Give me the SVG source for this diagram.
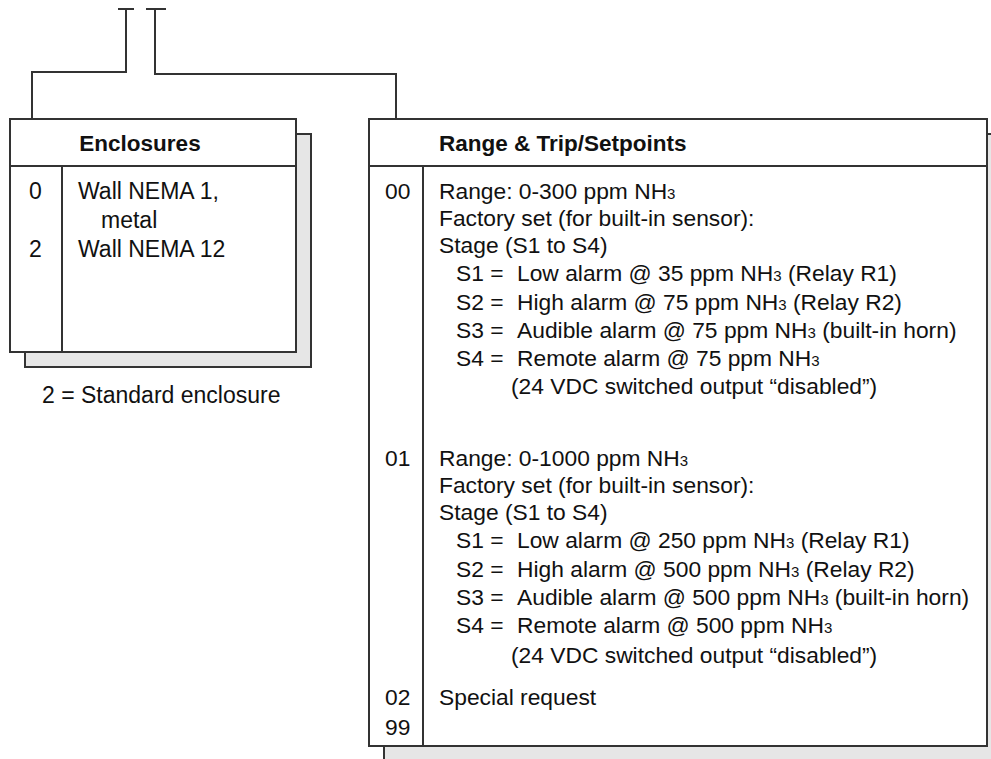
<svg xmlns="http://www.w3.org/2000/svg" width="991" height="759" viewBox="0 0 991 759">
<style>
.ln{fill:none;stroke:#333;stroke-width:2}
.box{fill:#fff;stroke:#333;stroke-width:2}
.sh{fill:#e6e6e6;stroke:#333;stroke-width:2}
.t{font-family:"Liberation Sans",Arial,sans-serif;font-size:23px;fill:#111}
.r{font-size:22.8px}
.b{font-weight:bold;font-size:22.5px}
.sub{font-size:15px}
</style>
<rect width="991" height="759" fill="#fff"/>
<g id="connectors">
<path class="ln" d="M118 9H134M126 9V72H32V119"/>
<path class="ln" d="M146 9H166M155 9V74H396V119"/>
</g>
<g id="enclosures">
<rect class="sh" x="25" y="134" width="286" height="233"/>
<rect class="box" x="10" y="119" width="286" height="233"/>
<path class="ln" d="M10 166H296M62 166V352"/>
<text class="t b" x="140" y="151" text-anchor="middle">Enclosures</text>
<text class="t" x="29" y="199">0</text>
<text class="t" x="78" y="199">Wall NEMA 1,</text>
<text class="t" x="101" y="228">metal</text>
<text class="t" x="29" y="257">2</text>
<text class="t" x="78" y="257">Wall NEMA 12</text>
<text class="t" x="42" y="403">2 = Standard enclosure</text>
</g>
<g id="range">
<rect class="sh" x="384" y="134" width="620" height="640"/>
<rect class="box" x="369" y="119" width="618" height="627"/>
<path class="ln" d="M369 166H987M423 166V746"/>
<text class="t b" x="439" y="151">Range &amp; Trip/Setpoints</text>
<g class="t r">
<text x="385" y="199">00</text>
<text x="439" y="199">Range: 0-300 ppm NH<tspan class="sub">3</tspan></text>
<text x="439" y="226">Factory set (for built-in sensor):</text>
<text x="439" y="253">Stage (S1 to S4)</text>
<text x="456" y="281">S1 =<tspan x="517">Low alarm @ 35 ppm NH</tspan><tspan class="sub">3</tspan> (Relay R1)</text>
<text x="456" y="310">S2 =<tspan x="517">High alarm @ 75 ppm NH</tspan><tspan class="sub">3</tspan> (Relay R2)</text>
<text x="456" y="338">S3 =<tspan x="517">Audible alarm @ 75 ppm NH</tspan><tspan class="sub">3</tspan> (built-in horn)</text>
<text x="456" y="366">S4 =<tspan x="517">Remote alarm @ 75 ppm NH</tspan><tspan class="sub">3</tspan></text>
<text x="511" y="394">(24 VDC switched output “disabled”)</text>
<text x="385" y="466">01</text>
<text x="439" y="466">Range: 0-1000 ppm NH<tspan class="sub">3</tspan></text>
<text x="439" y="493">Factory set (for built-in sensor):</text>
<text x="439" y="520">Stage (S1 to S4)</text>
<text x="456" y="548">S1 =<tspan x="517">Low alarm @ 250 ppm NH</tspan><tspan class="sub">3</tspan> (Relay R1)</text>
<text x="456" y="577">S2 =<tspan x="517">High alarm @ 500 ppm NH</tspan><tspan class="sub">3</tspan> (Relay R2)</text>
<text x="456" y="605">S3 =<tspan x="517">Audible alarm @ 500 ppm NH</tspan><tspan class="sub">3</tspan> (built-in horn)</text>
<text x="456" y="633">S4 =<tspan x="517">Remote alarm @ 500 ppm NH</tspan><tspan class="sub">3</tspan></text>
<text x="511" y="663">(24 VDC switched output “disabled”)</text>
<text x="385" y="705">02</text>
<text x="439" y="705">Special request</text>
<text x="385" y="735">99</text>
</g>
</g>
</svg>
